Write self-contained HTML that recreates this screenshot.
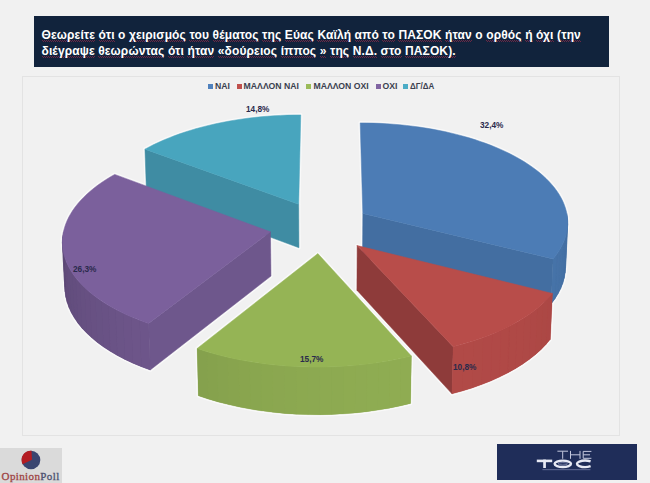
<!DOCTYPE html>
<html><head><meta charset="utf-8">
<style>
html,body{margin:0;padding:0;}
body{width:650px;height:483px;background:#f1f1f1;position:relative;overflow:hidden;font-family:"Liberation Sans",sans-serif;}
.title{position:absolute;left:34px;top:16px;width:575px;height:51px;background:#11233c;}
.tl{position:absolute;left:7.5px;color:#fff;font-weight:bold;font-size:12px;white-space:nowrap;line-height:15px;letter-spacing:0.12px;}
.sp{background-image:repeating-linear-gradient(90deg,rgba(180,45,75,.55) 0 1px,transparent 1px 2px),repeating-linear-gradient(90deg,transparent 0 1px,rgba(180,45,75,.55) 1px 2px);background-size:100% 1px,100% 1px;background-position:0 12px,0 13px;background-repeat:no-repeat;}
.chart{position:absolute;left:22px;top:76px;width:598px;height:360px;border:1px solid #e3e3e3;box-sizing:border-box;}
svg{position:absolute;left:0;top:0;}
.leg{position:absolute;top:81px;font-size:8.7px;font-weight:bold;color:#3b3f4f;white-space:nowrap;line-height:10px;}
.sq{position:absolute;width:5px;height:5px;top:84px;}
.lab{position:absolute;font-size:9px;font-weight:bold;color:#2a2a4c;white-space:nowrap;line-height:10px;transform:scaleX(0.92);transform-origin:0 0;}
.op{position:absolute;left:0;top:448px;width:62px;height:35px;background:#dcdcdc;}
.toc{position:absolute;left:497px;top:444px;width:140px;height:36px;background:#1f2d5c;}
</style></head><body>
<div class="title">
<div class="tl" style="top:11.8px;"><span class="sp">Θεωρείτε</span> <span class="sp">ότι</span> ο <span class="sp">χειρισμός</span> <span class="sp">του</span> <span class="sp">θέματος</span> <span class="sp">της</span> <span class="sp">Εύας</span> <span class="sp">Καϊλή</span> <span class="sp">από</span> <span class="sp">το</span> <span class="sp">ΠΑΣΟΚ</span> <span class="sp">ήταν</span> ο <span class="sp">ορθός</span> <span class="sp">ή</span> <span class="sp">όχι</span> <span class="sp">(την</span></div>
<div class="tl" style="top:28.2px;"><span class="sp">διέγραψε</span> <span class="sp">θεωρώντας</span> <span class="sp">ότι</span> <span class="sp">ήταν</span> <span class="sp">«δούρειος</span> <span class="sp">ίππος</span> <span class="sp">»</span> <span class="sp">της</span> <span class="sp">Ν.Δ.</span> <span class="sp">στο</span> <span class="sp">ΠΑΣΟΚ).</span></div>
</div>
<div class="chart"></div>
<svg width="650" height="483" viewBox="0 0 650 483">
<g opacity="0.6" fill="#ffffff" stroke="#ffffff" stroke-width="3.6" stroke-linejoin="round">
<polygon points="298.70,204.22 144.94,149.21 149.55,146.73 154.32,144.33 159.25,142.02 164.33,139.78 169.55,137.64 174.91,135.58 180.40,133.61 186.01,131.73 191.74,129.95 197.58,128.26 203.53,126.66 209.58,125.17 215.71,123.77 221.93,122.47 228.23,121.27 234.60,120.17 241.04,119.18 247.53,118.28 254.07,117.50 260.66,116.81 267.29,116.23 273.95,115.75 280.63,115.38 287.33,115.12 294.04,114.96 300.76,114.91"/>
<polygon points="298.70,204.22 144.94,149.21 146.43,191.26 298.94,247.75"/>
<polygon points="362.82,213.52 360.19,122.90 366.83,122.95 373.46,123.11 380.09,123.36 386.69,123.73 393.28,124.19 399.84,124.76 406.36,125.43 412.83,126.20 419.27,127.07 425.64,128.04 431.96,129.12 438.21,130.29 444.38,131.56 450.48,132.92 456.49,134.39 462.40,135.95 468.22,137.60 473.93,139.34 479.53,141.18 485.02,143.11 490.38,145.12 495.61,147.22 500.70,149.41 505.66,151.68 510.46,154.03 515.11,156.47 519.60,158.98 523.93,161.56 528.08,164.22 532.06,166.94 535.85,169.74 539.46,172.60 542.87,175.52 546.08,178.51 549.09,181.55 551.89,184.64 554.48,187.79 556.85,190.98 559.00,194.22 560.92,197.50 562.61,200.81 564.06,204.16 565.27,207.54 566.25,210.94 566.97,214.37 567.45,217.82 567.68,221.28 567.66,224.74 567.38,228.22 566.84,231.69 566.04,235.16 564.98,238.63 563.67,242.08 562.09,245.51 560.25,248.92 558.15,252.31 555.79,255.66 553.17,258.98"/>
<polygon points="566.82,213.52 567.53,218.59 567.69,223.69 567.30,228.80 566.36,233.92 564.85,239.02 562.78,244.09 560.14,249.11 556.94,254.08 553.17,258.98 551.14,303.93 554.88,298.91 558.06,293.81 560.69,288.66 562.75,283.45 564.25,278.22 565.20,272.98 565.59,267.73 565.44,262.50 564.74,257.29"/>
<polygon points="362.82,213.52 553.17,258.98 551.14,303.93 362.51,257.29"/>
<polygon points="270.48,231.84 148.53,323.42 142.29,321.20 136.24,318.87 130.39,316.44 124.74,313.90 119.31,311.26 114.10,308.53 109.11,305.71 104.36,302.81 99.84,299.83 95.57,296.77 91.54,293.64 87.76,290.45 84.24,287.20 80.97,283.89 77.97,280.53 75.23,277.13 72.75,273.69 70.53,270.21 68.58,266.70 66.90,263.17 65.49,259.62 64.34,256.05 63.45,252.47 62.83,248.89 62.48,245.30 62.38,241.72 62.54,238.14 62.96,234.58 63.64,231.03 64.56,227.51 65.73,224.01 67.15,220.54 68.81,217.10 70.70,213.70 72.83,210.34 75.18,207.03 77.76,203.76 80.56,200.54 83.57,197.38 86.79,194.27 90.21,191.23 93.83,188.25 97.64,185.33 101.64,182.49 105.83,179.71 110.18,177.01 114.71,174.39"/>
<polygon points="148.53,323.42 139.61,320.19 131.09,316.74 123.00,313.08 115.36,309.21 108.17,305.16 101.48,300.94 95.27,296.55 89.58,292.03 84.42,287.37 79.78,282.60 75.69,277.73 72.14,272.78 69.14,267.75 66.69,262.67 64.79,257.55 63.44,252.41 62.64,247.25 62.38,242.09 62.65,236.95 63.46,231.84 65.77,276.09 64.98,281.34 64.72,286.61 64.99,291.90 65.79,297.19 67.14,302.47 69.03,307.72 71.46,312.93 74.45,318.08 77.97,323.17 82.04,328.16 86.64,333.05 91.77,337.83 97.41,342.47 103.56,346.96 110.21,351.29 117.33,355.44 124.91,359.40 132.93,363.16 141.37,366.70 150.21,370.01"/>
<polygon points="270.48,231.84 148.53,323.42 150.21,370.01 270.98,276.09"/>
<polygon points="357.17,245.57 552.43,293.45 549.42,296.97 546.13,300.43 542.58,303.84 538.77,307.19 534.69,310.47 530.35,313.69 525.76,316.82 520.92,319.87 515.84,322.84 510.52,325.72 504.97,328.49 499.19,331.17 493.20,333.74 487.00,336.20 480.60,338.54 474.01,340.77 467.24,342.87 460.30,344.84 453.20,346.68"/>
<polygon points="552.43,293.45 547.94,298.57 542.87,303.58 537.23,308.46 531.04,313.20 524.30,317.77 517.03,322.16 509.26,326.37 500.99,330.36 492.26,334.13 483.09,337.66 473.50,340.93 463.53,343.95 453.20,346.68 451.99,393.84 462.22,391.04 472.10,387.95 481.60,384.59 490.69,380.98 499.35,377.11 507.54,373.02 515.25,368.72 522.45,364.21 529.13,359.53 535.27,354.67 540.87,349.67 545.89,344.54 550.35,339.29"/>
<polygon points="357.17,245.57 453.20,346.68 451.99,393.84 356.90,290.18"/>
<polygon points="317.85,253.59 411.38,356.04 404.12,357.74 396.73,359.32 389.22,360.75 381.60,362.04 373.88,363.19 366.07,364.19 358.19,365.05 350.24,365.75 342.24,366.30 334.20,366.71 326.14,366.96 318.06,367.05 309.99,366.99 301.92,366.78 293.88,366.42 285.88,365.91 277.93,365.24 270.04,364.42 262.23,363.46 254.50,362.35 246.87,361.09 239.35,359.69 231.95,358.16 224.68,356.48 217.56,354.68 210.59,352.74 203.78,350.67 197.15,348.49"/>
<polygon points="411.38,356.04 400.64,358.51 389.62,360.68 378.36,362.54 366.90,364.09 355.26,365.32 343.51,366.23 331.66,366.80 319.77,367.04 307.86,366.95 296.00,366.53 284.20,365.78 272.52,364.70 261.00,363.29 249.67,361.57 238.56,359.54 227.72,357.20 217.19,354.58 206.98,351.67 197.15,348.49 198.39,395.69 208.14,398.95 218.24,401.93 228.68,404.62 239.42,407.01 250.41,409.09 261.64,410.86 273.05,412.29 284.62,413.40 296.30,414.17 308.05,414.61 319.84,414.70 331.61,414.45 343.35,413.86 354.99,412.93 366.51,411.67 377.86,410.09 389.01,408.18 399.93,405.95 410.56,403.42"/>
</g>
<polygon points="298.70,204.22 144.94,149.21 146.43,191.26 298.94,247.75" fill="#3f8ca3" stroke="#3f8ca3" stroke-width="0.5"/>
<polygon points="298.70,204.22 144.94,149.21 149.55,146.73 154.32,144.33 159.25,142.02 164.33,139.78 169.55,137.64 174.91,135.58 180.40,133.61 186.01,131.73 191.74,129.95 197.58,128.26 203.53,126.66 209.58,125.17 215.71,123.77 221.93,122.47 228.23,121.27 234.60,120.17 241.04,119.18 247.53,118.28 254.07,117.50 260.66,116.81 267.29,116.23 273.95,115.75 280.63,115.38 287.33,115.12 294.04,114.96 300.76,114.91" fill="#48a5be" stroke="#48a5be" stroke-width="0.5"/>
<polygon points="362.82,213.52 553.17,258.98 551.14,303.93 362.51,257.29" fill="#436ea1" stroke="#436ea1" stroke-width="0.5"/>
<polygon points="566.82,213.52 567.53,218.59 567.69,223.69 567.30,228.80 566.36,233.92 564.85,239.02 562.78,244.09 560.14,249.11 556.94,254.08 553.17,258.98 551.14,303.93 554.88,298.91 558.06,293.81 560.69,288.66 562.75,283.45 564.25,278.22 565.20,272.98 565.59,267.73 565.44,262.50 564.74,257.29" fill="#4570a4"/>
<polygon points="566.82,213.52 567.53,218.59 565.44,262.50 564.74,257.29" fill="#436da0" stroke="#436da0" stroke-width="0.3"/>
<polygon points="567.53,218.59 567.69,223.69 565.59,267.73 565.44,262.50" fill="#436ea1" stroke="#436ea1" stroke-width="0.3"/>
<polygon points="567.69,223.69 567.30,228.80 565.20,272.98 565.59,267.73" fill="#446fa2" stroke="#446fa2" stroke-width="0.3"/>
<polygon points="567.30,228.80 566.36,233.92 564.25,278.22 565.20,272.98" fill="#446fa3" stroke="#446fa3" stroke-width="0.3"/>
<polygon points="566.36,233.92 564.85,239.02 562.75,283.45 564.25,278.22" fill="#4570a4" stroke="#4570a4" stroke-width="0.3"/>
<polygon points="564.85,239.02 562.78,244.09 560.69,288.66 562.75,283.45" fill="#4571a5" stroke="#4571a5" stroke-width="0.3"/>
<polygon points="562.78,244.09 560.14,249.11 558.06,293.81 560.69,288.66" fill="#4672a6" stroke="#4672a6" stroke-width="0.3"/>
<polygon points="560.14,249.11 556.94,254.08 554.88,298.91 558.06,293.81" fill="#4672a7" stroke="#4672a7" stroke-width="0.3"/>
<polygon points="556.94,254.08 553.17,258.98 551.14,303.93 554.88,298.91" fill="#4673a8" stroke="#4673a8" stroke-width="0.3"/>
<polygon points="362.82,213.52 360.19,122.90 366.83,122.95 373.46,123.11 380.09,123.36 386.69,123.73 393.28,124.19 399.84,124.76 406.36,125.43 412.83,126.20 419.27,127.07 425.64,128.04 431.96,129.12 438.21,130.29 444.38,131.56 450.48,132.92 456.49,134.39 462.40,135.95 468.22,137.60 473.93,139.34 479.53,141.18 485.02,143.11 490.38,145.12 495.61,147.22 500.70,149.41 505.66,151.68 510.46,154.03 515.11,156.47 519.60,158.98 523.93,161.56 528.08,164.22 532.06,166.94 535.85,169.74 539.46,172.60 542.87,175.52 546.08,178.51 549.09,181.55 551.89,184.64 554.48,187.79 556.85,190.98 559.00,194.22 560.92,197.50 562.61,200.81 564.06,204.16 565.27,207.54 566.25,210.94 566.97,214.37 567.45,217.82 567.68,221.28 567.66,224.74 567.38,228.22 566.84,231.69 566.04,235.16 564.98,238.63 563.67,242.08 562.09,245.51 560.25,248.92 558.15,252.31 555.79,255.66 553.17,258.98" fill="#4c7cb5" stroke="#4c7cb5" stroke-width="0.5"/>
<polygon points="270.48,231.84 148.53,323.42 150.21,370.01 270.98,276.09" fill="#6e578c" stroke="#6e578c" stroke-width="0.5"/>
<polygon points="148.53,323.42 139.61,320.19 131.09,316.74 123.00,313.08 115.36,309.21 108.17,305.16 101.48,300.94 95.27,296.55 89.58,292.03 84.42,287.37 79.78,282.60 75.69,277.73 72.14,272.78 69.14,267.75 66.69,262.67 64.79,257.55 63.44,252.41 62.64,247.25 62.38,242.09 62.65,236.95 63.46,231.84 65.77,276.09 64.98,281.34 64.72,286.61 64.99,291.90 65.79,297.19 67.14,302.47 69.03,307.72 71.46,312.93 74.45,318.08 77.97,323.17 82.04,328.16 86.64,333.05 91.77,337.83 97.41,342.47 103.56,346.96 110.21,351.29 117.33,355.44 124.91,359.40 132.93,363.16 141.37,366.70 150.21,370.01" fill="#654f80"/>
<polygon points="148.53,323.42 139.61,320.19 141.37,366.70 150.21,370.01" fill="#6d558a" stroke="#6d558a" stroke-width="0.3"/>
<polygon points="139.61,320.19 131.09,316.74 132.93,363.16 141.37,366.70" fill="#6d5589" stroke="#6d5589" stroke-width="0.3"/>
<polygon points="131.09,316.74 123.00,313.08 124.91,359.40 132.93,363.16" fill="#6c5488" stroke="#6c5488" stroke-width="0.3"/>
<polygon points="123.00,313.08 115.36,309.21 117.33,355.44 124.91,359.40" fill="#6b5487" stroke="#6b5487" stroke-width="0.3"/>
<polygon points="115.36,309.21 108.17,305.16 110.21,351.29 117.33,355.44" fill="#6a5386" stroke="#6a5386" stroke-width="0.3"/>
<polygon points="108.17,305.16 101.48,300.94 103.56,346.96 110.21,351.29" fill="#695285" stroke="#695285" stroke-width="0.3"/>
<polygon points="101.48,300.94 95.27,296.55 97.41,342.47 103.56,346.96" fill="#685284" stroke="#685284" stroke-width="0.3"/>
<polygon points="95.27,296.55 89.58,292.03 91.77,337.83 97.41,342.47" fill="#685183" stroke="#685183" stroke-width="0.3"/>
<polygon points="89.58,292.03 84.42,287.37 86.64,333.05 91.77,337.83" fill="#675082" stroke="#675082" stroke-width="0.3"/>
<polygon points="84.42,287.37 79.78,282.60 82.04,328.16 86.64,333.05" fill="#665081" stroke="#665081" stroke-width="0.3"/>
<polygon points="79.78,282.60 75.69,277.73 77.97,323.17 82.04,328.16" fill="#654f80" stroke="#654f80" stroke-width="0.3"/>
<polygon points="75.69,277.73 72.14,272.78 74.45,318.08 77.97,323.17" fill="#644e7f" stroke="#644e7f" stroke-width="0.3"/>
<polygon points="72.14,272.78 69.14,267.75 71.46,312.93 74.45,318.08" fill="#634e7e" stroke="#634e7e" stroke-width="0.3"/>
<polygon points="69.14,267.75 66.69,262.67 69.03,307.72 71.46,312.93" fill="#624d7d" stroke="#624d7d" stroke-width="0.3"/>
<polygon points="66.69,262.67 64.79,257.55 67.14,302.47 69.03,307.72" fill="#624c7b" stroke="#624c7b" stroke-width="0.3"/>
<polygon points="64.79,257.55 63.44,252.41 65.79,297.19 67.14,302.47" fill="#614c7a" stroke="#614c7a" stroke-width="0.3"/>
<polygon points="63.44,252.41 62.64,247.25 64.99,291.90 65.79,297.19" fill="#604b79" stroke="#604b79" stroke-width="0.3"/>
<polygon points="62.64,247.25 62.38,242.09 64.72,286.61 64.99,291.90" fill="#5f4a78" stroke="#5f4a78" stroke-width="0.3"/>
<polygon points="62.38,242.09 62.65,236.95 64.98,281.34 64.72,286.61" fill="#5e4a77" stroke="#5e4a77" stroke-width="0.3"/>
<polygon points="62.65,236.95 63.46,231.84 65.77,276.09 64.98,281.34" fill="#5d4976" stroke="#5d4976" stroke-width="0.3"/>
<polygon points="270.48,231.84 148.53,323.42 142.29,321.20 136.24,318.87 130.39,316.44 124.74,313.90 119.31,311.26 114.10,308.53 109.11,305.71 104.36,302.81 99.84,299.83 95.57,296.77 91.54,293.64 87.76,290.45 84.24,287.20 80.97,283.89 77.97,280.53 75.23,277.13 72.75,273.69 70.53,270.21 68.58,266.70 66.90,263.17 65.49,259.62 64.34,256.05 63.45,252.47 62.83,248.89 62.48,245.30 62.38,241.72 62.54,238.14 62.96,234.58 63.64,231.03 64.56,227.51 65.73,224.01 67.15,220.54 68.81,217.10 70.70,213.70 72.83,210.34 75.18,207.03 77.76,203.76 80.56,200.54 83.57,197.38 86.79,194.27 90.21,191.23 93.83,188.25 97.64,185.33 101.64,182.49 105.83,179.71 110.18,177.01 114.71,174.39" fill="#7b609c" stroke="#7b609c" stroke-width="0.5"/>
<polygon points="357.17,245.57 453.20,346.68 451.99,393.84 356.90,290.18" fill="#8e3b3a" stroke="#8e3b3a" stroke-width="0.5"/>
<polygon points="552.43,293.45 547.94,298.57 542.87,303.58 537.23,308.46 531.04,313.20 524.30,317.77 517.03,322.16 509.26,326.37 500.99,330.36 492.26,334.13 483.09,337.66 473.50,340.93 463.53,343.95 453.20,346.68 451.99,393.84 462.22,391.04 472.10,387.95 481.60,384.59 490.69,380.98 499.35,377.11 507.54,373.02 515.25,368.72 522.45,364.21 529.13,359.53 535.27,354.67 540.87,349.67 545.89,344.54 550.35,339.29" fill="#af4946"/>
<polygon points="552.43,293.45 547.94,298.57 545.89,344.54 550.35,339.29" fill="#ac4745" stroke="#ac4745" stroke-width="0.3"/>
<polygon points="547.94,298.57 542.87,303.58 540.87,349.67 545.89,344.54" fill="#ac4845" stroke="#ac4845" stroke-width="0.3"/>
<polygon points="542.87,303.58 537.23,308.46 535.27,354.67 540.87,349.67" fill="#ad4845" stroke="#ad4845" stroke-width="0.3"/>
<polygon points="537.23,308.46 531.04,313.20 529.13,359.53 535.27,354.67" fill="#ae4846" stroke="#ae4846" stroke-width="0.3"/>
<polygon points="531.04,313.20 524.30,317.77 522.45,364.21 529.13,359.53" fill="#ae4946" stroke="#ae4946" stroke-width="0.3"/>
<polygon points="524.30,317.77 517.03,322.16 515.25,368.72 522.45,364.21" fill="#af4946" stroke="#af4946" stroke-width="0.3"/>
<polygon points="517.03,322.16 509.26,326.37 507.54,373.02 515.25,368.72" fill="#af4946" stroke="#af4946" stroke-width="0.3"/>
<polygon points="509.26,326.37 500.99,330.36 499.35,377.11 507.54,373.02" fill="#b04946" stroke="#b04946" stroke-width="0.3"/>
<polygon points="500.99,330.36 492.26,334.13 490.69,380.98 499.35,377.11" fill="#b04947" stroke="#b04947" stroke-width="0.3"/>
<polygon points="492.26,334.13 483.09,337.66 481.60,384.59 490.69,380.98" fill="#b04947" stroke="#b04947" stroke-width="0.3"/>
<polygon points="483.09,337.66 473.50,340.93 472.10,387.95 481.60,384.59" fill="#b04a47" stroke="#b04a47" stroke-width="0.3"/>
<polygon points="473.50,340.93 463.53,343.95 462.22,391.04 472.10,387.95" fill="#b14a47" stroke="#b14a47" stroke-width="0.3"/>
<polygon points="463.53,343.95 453.20,346.68 451.99,393.84 462.22,391.04" fill="#b14a47" stroke="#b14a47" stroke-width="0.3"/>
<polygon points="357.17,245.57 552.43,293.45 549.42,296.97 546.13,300.43 542.58,303.84 538.77,307.19 534.69,310.47 530.35,313.69 525.76,316.82 520.92,319.87 515.84,322.84 510.52,325.72 504.97,328.49 499.19,331.17 493.20,333.74 487.00,336.20 480.60,338.54 474.01,340.77 467.24,342.87 460.30,344.84 453.20,346.68" fill="#b84d4a" stroke="#b84d4a" stroke-width="0.5"/>
<polygon points="411.38,356.04 400.64,358.51 389.62,360.68 378.36,362.54 366.90,364.09 355.26,365.32 343.51,366.23 331.66,366.80 319.77,367.04 307.86,366.95 296.00,366.53 284.20,365.78 272.52,364.70 261.00,363.29 249.67,361.57 238.56,359.54 227.72,357.20 217.19,354.58 206.98,351.67 197.15,348.49 198.39,395.69 208.14,398.95 218.24,401.93 228.68,404.62 239.42,407.01 250.41,409.09 261.64,410.86 273.05,412.29 284.62,413.40 296.30,414.17 308.05,414.61 319.84,414.70 331.61,414.45 343.35,413.86 354.99,412.93 366.51,411.67 377.86,410.09 389.01,408.18 399.93,405.95 410.56,403.42" fill="#8ca950"/>
<polygon points="411.38,356.04 400.64,358.51 399.93,405.95 410.56,403.42" fill="#8fac52" stroke="#8fac52" stroke-width="0.3"/>
<polygon points="400.64,358.51 389.62,360.68 389.01,408.18 399.93,405.95" fill="#8fac52" stroke="#8fac52" stroke-width="0.3"/>
<polygon points="389.62,360.68 378.36,362.54 377.86,410.09 389.01,408.18" fill="#8eac52" stroke="#8eac52" stroke-width="0.3"/>
<polygon points="378.36,362.54 366.90,364.09 366.51,411.67 377.86,410.09" fill="#8eac52" stroke="#8eac52" stroke-width="0.3"/>
<polygon points="366.90,364.09 355.26,365.32 354.99,412.93 366.51,411.67" fill="#8eab52" stroke="#8eab52" stroke-width="0.3"/>
<polygon points="355.26,365.32 343.51,366.23 343.35,413.86 354.99,412.93" fill="#8eab51" stroke="#8eab51" stroke-width="0.3"/>
<polygon points="343.51,366.23 331.66,366.80 331.61,414.45 343.35,413.86" fill="#8daa51" stroke="#8daa51" stroke-width="0.3"/>
<polygon points="331.66,366.80 319.77,367.04 319.84,414.70 331.61,414.45" fill="#8daa51" stroke="#8daa51" stroke-width="0.3"/>
<polygon points="319.77,367.04 307.86,366.95 308.05,414.61 319.84,414.70" fill="#8ca951" stroke="#8ca951" stroke-width="0.3"/>
<polygon points="307.86,366.95 296.00,366.53 296.30,414.17 308.05,414.61" fill="#8ca950" stroke="#8ca950" stroke-width="0.3"/>
<polygon points="296.00,366.53 284.20,365.78 284.62,413.40 296.30,414.17" fill="#8ba850" stroke="#8ba850" stroke-width="0.3"/>
<polygon points="284.20,365.78 272.52,364.70 273.05,412.29 284.62,413.40" fill="#8ba750" stroke="#8ba750" stroke-width="0.3"/>
<polygon points="272.52,364.70 261.00,363.29 261.64,410.86 273.05,412.29" fill="#8aa74f" stroke="#8aa74f" stroke-width="0.3"/>
<polygon points="261.00,363.29 249.67,361.57 250.41,409.09 261.64,410.86" fill="#89a64f" stroke="#89a64f" stroke-width="0.3"/>
<polygon points="249.67,361.57 238.56,359.54 239.42,407.01 250.41,409.09" fill="#89a54e" stroke="#89a54e" stroke-width="0.3"/>
<polygon points="238.56,359.54 227.72,357.20 228.68,404.62 239.42,407.01" fill="#88a44e" stroke="#88a44e" stroke-width="0.3"/>
<polygon points="227.72,357.20 217.19,354.58 218.24,401.93 228.68,404.62" fill="#87a34e" stroke="#87a34e" stroke-width="0.3"/>
<polygon points="217.19,354.58 206.98,351.67 208.14,398.95 218.24,401.93" fill="#86a24d" stroke="#86a24d" stroke-width="0.3"/>
<polygon points="206.98,351.67 197.15,348.49 198.39,395.69 208.14,398.95" fill="#85a14d" stroke="#85a14d" stroke-width="0.3"/>
<polygon points="317.85,253.59 411.38,356.04 404.12,357.74 396.73,359.32 389.22,360.75 381.60,362.04 373.88,363.19 366.07,364.19 358.19,365.05 350.24,365.75 342.24,366.30 334.20,366.71 326.14,366.96 318.06,367.05 309.99,366.99 301.92,366.78 293.88,366.42 285.88,365.91 277.93,365.24 270.04,364.42 262.23,363.46 254.50,362.35 246.87,361.09 239.35,359.69 231.95,358.16 224.68,356.48 217.56,354.68 210.59,352.74 203.78,350.67 197.15,348.49" fill="#95b455" stroke="#95b455" stroke-width="0.5"/>
<rect x="0" y="448" width="62" height="35" fill="#dadada"/>
<g>
<circle cx="31" cy="460" r="9.3" fill="#3a4570"/>
<path d="M31.5,450.7 L32,459.8 L22.6,464.2 A9.3,9.3 0 0 1 31.5,450.7 Z" fill="#b41c22"/>
</g>
<text x="1.6" y="480" font-family="Liberation Serif" font-size="11" textLength="57.6" lengthAdjust="spacing"><tspan fill="#9e4444" stroke="#9e4444" stroke-width="0.3">Opinion</tspan><tspan fill="#4c5270" stroke="#4c5270" stroke-width="0.3">Poll</tspan></text>
<rect x="497" y="444" width="140" height="36" fill="#1f2d59"/>
<g fill="none" stroke="#c4c8de" stroke-width="1">
<path d="M557.4,451.2 H568 M562.7,451.4 V458.8 M570.5,450.9 V458.8 M580,450.9 V458.8 M570.5,454.8 H580 M591.4,451.4 H583.2 V458.3 H591.4 M583.2,454.8 H590"/>
</g>
<g fill="#e8eaf4">
<rect x="536.8" y="459.6" width="15.4" height="2.6"/>
<rect x="543.2" y="459.6" width="2.7" height="8.4"/>
</g>
<g fill="none" stroke="#e8eaf4">
<ellipse cx="562.8" cy="463.8" rx="8.2" ry="3.2" stroke-width="2.4"/>
<ellipse cx="562.8" cy="463.8" rx="4.6" ry="1.2" stroke-width="0.7" stroke="#9aa0c4"/>
<path d="M590.6,461.4 A8.2,3.2 0 1 0 590.6,466.2" stroke-width="2.4"/>
</g>
<rect x="542.4" y="469" width="48" height="1.2" fill="#56608a"/>
</svg>
<div class="sq" style="left:207.5px;background:#4f81bd"></div><div class="leg" style="left:215px">ΝΑΙ</div>
<div class="sq" style="left:236.6px;background:#c0504d"></div><div class="leg" style="left:243.6px">ΜΑΛΛΟΝ ΝΑΙ</div>
<div class="sq" style="left:306.2px;background:#9bbb59"></div><div class="leg" style="left:313.4px">ΜΑΛΛΟΝ ΟΧΙ</div>
<div class="sq" style="left:375.7px;background:#8064a2"></div><div class="leg" style="left:382.4px">ΟΧΙ</div>
<div class="sq" style="left:403px;background:#4bacc6"></div><div class="leg" style="left:409.7px;transform:scaleX(0.92);transform-origin:0 0">ΔΓ/ΔΑ</div>
<div class="lab" style="left:480.4px;top:120.3px">32,4%</div>
<div class="lab" style="left:452.7px;top:361.6px">10,8%</div>
<div class="lab" style="left:300.4px;top:353.8px">15,7%</div>
<div class="lab" style="left:73.4px;top:263.8px">26,3%</div>
<div class="lab" style="left:246.2px;top:103.8px">14,8%</div>
</body></html>
